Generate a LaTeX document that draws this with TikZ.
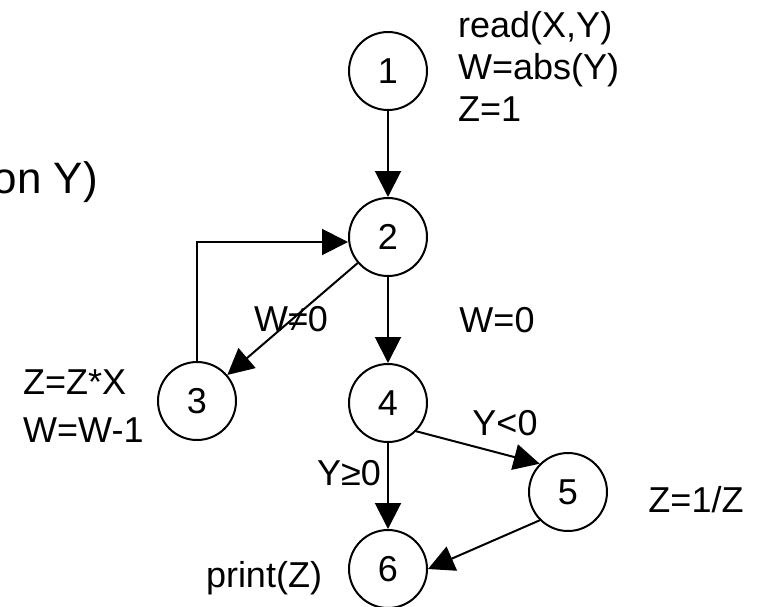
\documentclass[tikz,border=0pt]{standalone}
\usepackage{fontspec}
\setmainfont{Liberation Sans}
\usetikzlibrary{arrows.meta}
\begin{document}
\begin{tikzpicture}[x=1pt,y=-1pt,
  state/.style={circle,draw,line width=2pt,minimum size=78pt,inner sep=0pt,font=\fontsize{36}{42}\selectfont},
  lbl/.style={inner sep=0pt,font=\fontsize{36}{42}\selectfont},
  edge/.style={line width=2pt,-{Triangle[length=26pt,width=26pt]}}]
\useasboundingbox (0,0) rectangle (766,606);
% nodes
\node[state] (n1) at (388,71) {1};
\node[state] (n2) at (388,237) {2};
\node[state] (n3) at (197,401) {3};
\node[state] (n4) at (388,403) {4};
\node[state] (n5) at (568,492) {5};
\node[state] (n6) at (388,569) {6};
% annotations
\node[lbl,anchor=base east,font=\fontsize{44}{50}\selectfont] (title) at (98,193) {on Y)};
\node[lbl,anchor=base west] (a1) at (458,37) {read(X,Y)};
\node[lbl,anchor=base west] (a2) at (458,79) {W=abs(Y)};
\node[lbl,anchor=base west] (a3) at (458,121) {Z=1};
\node[lbl,anchor=base west] (b1) at (23,394) {Z=Z*X};
\node[lbl,anchor=base west] (b2) at (23,442) {W=W-1};
\node[lbl,anchor=base] (c1) at (696,512) {Z=1/Z};
\node[lbl,anchor=base] (d1) at (264,587) {print(Z)};
% edge labels
\node[lbl,anchor=base] (e23) at (291,331) {W≠0};
\node[lbl,anchor=base] (e24) at (497,332) {W=0};
\node[lbl,anchor=base] (e45) at (505,435) {Y<0};
\node[lbl,anchor=base] (e46) at (349,485) {Y≥0};
% edges
\draw[edge] (n1) -- (n2);
\draw[edge] (n2) -- (n4);
\draw[edge] (n2) -- (n3);
\draw[edge] (n3.north) |- ([yshift=-5pt]n2.west);
\draw[edge] (n4.south east) -- (n5.north west);
\draw[edge] (n4) -- (n6);
\draw[edge] (n5.south west) -- (n6.east);
\end{tikzpicture}
\end{document}
